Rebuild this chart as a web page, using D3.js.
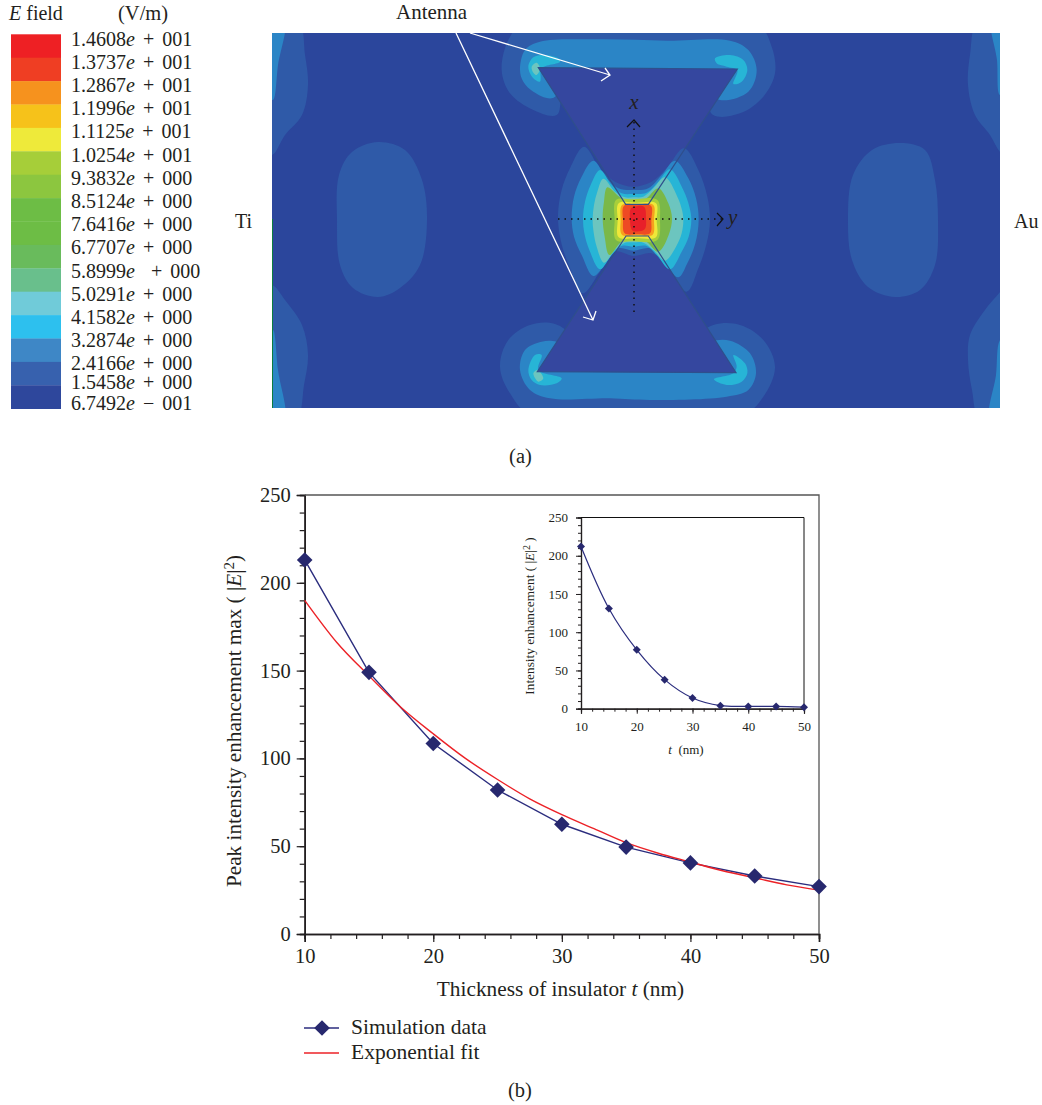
<!DOCTYPE html>
<html><head><meta charset="utf-8">
<script src="https://cdnjs.cloudflare.com/ajax/libs/d3/7.8.5/d3.min.js"></script>
<style>html,body{margin:0;padding:0;background:#fff}svg{display:block}text{font-family:"Liberation Serif",serif;fill:#231f20}.it{font-style:italic}</style>
</head><body><svg id="c" width="1042" height="1105"></svg>
<script>
// ---------- chart (b) data ----------
const thickness=[10,15,20,25,30,35,40,45,50];
const simulation=[213,149,108.5,82,62.5,49.5,40.5,33,27];
const fitThickness=[10,12.5,15,17.5,20,22.5,25,27.5,30,32.5,35,37.5,40,42.5,45,47.5,50];
const fitValues=[190,166,147,129,114,100,88,77,68,60,52,46,41,36,32,28,25];
const insetValues=[212,131,77,38,14,4,3,3,2];
const mainYTicks=[0,50,100,150,200,250];
const xTicks=[10,20,30,40,50];
// ---------- chart (a) colour key ----------
const keyLabels=[["1.4608","+ 001"],["1.3737","+ 001"],["1.2867","+ 001"],["1.1996","+ 001"],["1.1125","+ 001"],["1.0254","+ 001"],["9.3832","+ 000"],["8.5124","+ 000"],["7.6416","+ 000"],["6.7707","+ 000"],["5.8999"," + 000"],["5.0291","+ 000"],["4.1582","+ 000"],["3.2874","+ 000"],["2.4166","+ 000"],["1.5458","+ 000"],["6.7492","− 001"]];
const keyBands=["#ee2024","#ef3e23","#f6921e","#f6c21a","#eeea3a","#a6ce39","#8cc63f","#6dbd45","#6dbd45","#69bb5c","#69bf8c","#70cbd9","#2dc0ee","#3e87c6","#3761ae","#2e479c"];
// ---------- field contours: [colour, outline] ----------
const C={bg:"#2b469c",l2:"#2f5aa8",l3:"#2b85c6",l4:"#27b5d6",l5:"#6cc5bf",l6:"#7ab848",l7:"#a8cf3a",y:"#eee83a",o:"#f6a01e",r1:"#ee4a24",r2:"#e8202a"};
const sideShapes=[ // panel units
 [C.l2,[[265,20],[298,20],[305,55],[308,85],[302,115],[285,135],[272,155],[262,150],[262,60]]],
 [C.l3,[[265,20],[284,20],[278,65],[273,100],[266,90]]],
 [C.l2,[[272,285],[285,300],[302,325],[308,355],[304,385],[296,420],[265,420],[262,350],[262,290]]],
 [C.l3,[[265,420],[284,420],[278,370],[273,330],[266,350]]],
 [C.l2,[[337,220],[339,175],[352,152],[378,142],[405,150],[422,180],[427,220],[420,265],[400,288],[378,297],[353,288],[340,265]]],
 [C.l2,[[848,220],[853,175],[872,150],[900,143],[925,150],[935,180],[938,220],[935,265],[920,290],[895,297],[868,287],[852,260]]],
 [C.l2,[[1010,20],[978,20],[970,55],[968,85],[975,115],[990,135],[1000,152],[1010,160]]],
 [C.l3,[[1010,20],[992,20],[997,60],[1000,95],[1008,90]]],
 [C.l2,[[1010,280],[1000,292],[985,310],[970,335],[968,360],[972,390],[980,420],[1010,420]]],
 [C.l3,[[1008,420],[990,420],[996,375],[1000,340],[1008,335]]]
];
const cornerShapes=[ // zoomed panel units
 [C.l2,[[5,150],[25,60],[70,10],[400,10],[770,10],[815,80],[825,160],[790,230],[720,280],[640,285],[600,200],[200,200],[170,285],[100,270],[30,220]]],
 [C.l3,[[60,150],[75,90],[120,65],[300,58],[500,62],[690,62],[745,90],[770,150],[745,215],[660,240],[600,200],[200,200],[155,235],[100,215],[70,185]]],
 [C.l4,[[85,140],[100,112],[130,105],[175,115],[180,125],[125,145],[120,185],[100,175]]],
 [C.l4,[[645,115],[690,105],[730,120],[742,150],[725,185],[700,192],[712,150],[680,140],[650,130]]],
 [C.l5,[[95,140],[110,128],[120,145],[110,165],[100,158]]],
 [C.l2,[[0,1040],[25,960],[90,915],[165,912],[300,1000],[500,1000],[640,915],[720,915],[790,960],[825,1040],[790,1130],[720,1190],[100,1190],[30,1120]]],
 [C.l3,[[60,1050],[75,990],[125,965],[170,965],[300,1030],[500,1030],[630,965],[690,962],[750,1000],[768,1060],[745,1110],[680,1130],[450,1140],[330,1135],[150,1135],[90,1110]]],
 [C.l4,[[85,1050],[105,1005],[125,1005],[115,1050],[185,1075],[170,1090],[120,1095],[95,1080]]],
 [C.l4,[[700,1005],[735,1030],[742,1060],[725,1085],[680,1095],[642,1078],[700,1060],[710,1040]]],
 [C.l5,[[100,1060],[112,1050],[130,1075],[115,1085]]]
];
const antennaTop=[[115,143],[712,147],[445,553],[377,553]];
const antennaBottom=[[378,648],[445,648],[708,1058],[112,1055]];
const centreShapes=[ // zoomed centre units
 [C.l2,[[102,20],[150,85],[195,125],[250,140],[305,125],[350,85],[402,25],[445,90],[472,170],[480,240],[470,310],[445,385],[410,455],[350,375],[305,340],[250,348],[195,335],[150,395],[98,460],[60,385],[32,300],[24,225],[35,150],[60,85]]],
 [C.l3,[[130,62],[170,115],[205,145],[250,150],[295,145],[335,105],[375,62],[415,115],[438,175],[446,240],[436,310],[412,370],[385,412],[340,365],[300,325],[250,332],[205,325],[170,365],[130,408],[95,345],[72,290],[65,235],[72,170],[95,110]]],
 [C.l4,[[150,90],[185,135],[215,160],[250,162],[290,158],[325,125],[360,88],[400,150],[418,200],[424,240],[416,290],[395,335],[360,388],[320,345],[290,318],[250,320],[215,318],[185,345],[150,388],[118,330],[103,280],[99,235],[105,185],[122,135]]],
 [C.l5,[[160,116],[195,155],[225,172],[250,172],[280,170],[310,145],[345,112],[382,170],[396,210],[400,240],[395,280],[378,320],[345,362],[310,330],[280,308],[250,307],[225,308],[195,330],[162,368],[140,320],[130,270],[128,235],[132,195],[142,155]]],
 [C.l6,[[172,142],[215,175],[250,182],[285,178],[325,145],[355,190],[366,235],[356,285],[325,335],[285,302],[250,298],[215,305],[178,345],[164,290],[158,235],[162,185]]],
 [C.l7,[[198,180],[250,178],[322,180],[330,240],[322,300],[250,304],[198,300],[194,240]]],
 [C.y,[[206,190],[260,188],[318,190],[320,240],[318,292],[260,294],[206,292],[203,240]]],
 [C.o,[[216,195],[260,193],[310,195],[312,240],[308,284],[260,286],[216,284],[212,240]]],
 [C.r1,[[222,197],[262,195],[303,197],[304,240],[300,280],[262,283],[224,280],[219,240]]],
 [C.r2,[[244,204],[282,200],[288,235],[284,268],[248,272],[240,235]]]
];
const arrows=[
 {line:[[470,33],[610,75]],head:[[605,68],[610,75],[601,81]]},
 {line:[[456,33],[593,320]],head:[[583,317],[593,320],[596,311]]}
];
const dotted=[[[634,122],[634,315]],[[558,219],[722,219]]];
const axisHeads=[[[627,127],[634,120],[640,127]],[[717,213],[723,219],[717,226]]];

// ---------- scales ----------
const svg=d3.select("#c");
const px=d3.scaleLinear([272,1000],[272,1000]), py=d3.scaleLinear([33,408],[33,408]);
const cx=d3.scaleLinear([0,840],[500,780]), cy=d3.scaleLinear([0,1170],[20,410]);
const mx=d3.scaleLinear([0,510],[550,720]), my=d3.scaleLinear([0,480],[140,300]);
const blob=(X,Y)=>d3.line().x(d=>X(d[0])).y(d=>Y(d[1])).curve(d3.curveCatmullRomClosed.alpha(0.5));
const poly=(X,Y)=>d3.line().x(d=>X(d[0])).y(d=>Y(d[1]));

// ---------- colour key ----------
const keyY=d3.scaleBand(d3.range(keyBands.length),[34.3,408.7]);
svg.append("g").selectAll("rect").data(keyBands).join("rect")
 .attr("x",11).attr("width",50).attr("y",(d,i)=>keyY(i)).attr("height",keyY.bandwidth()+.3).attr("fill",d=>d);
const labelY=d3.scaleLinear([0,14],[39,363.8]);
const labelNudge=i=>i===15?-5:i===16?-7:0;
const kt=svg.append("g").selectAll("text").data(keyLabels).join("text")
 .attr("x",71).attr("y",(d,i)=>labelY(i)+labelNudge(i)).attr("dy","0.33em").attr("font-size",20).style("word-spacing","3px");
kt.append("tspan").text(d=>d[0]);
kt.append("tspan").attr("class","it").text("e");
kt.append("tspan").style("white-space","pre").text(d=>" "+d[1]);
const T=(x,y,s,size,anchor)=>svg.append("text").attr("x",x).attr("y",y).attr("font-size",size).attr("text-anchor",anchor||"start").text(s);
const ef=T(9,20,"",20); ef.append("tspan").attr("class","it").text("E"); ef.append("tspan").text(" field");
T(118,20,"(V/m)",20.5);
T(396,19,"Antenna",21);
T(235,228,"Ti",20);T(1014,228,"Au",20);
T(520.5,463,"(a)",20.5,"middle");T(520,1097,"(b)",20.5,"middle");

// ---------- field ----------
svg.append("clipPath").attr("id","fc").append("rect").attr("x",272).attr("y",33).attr("width",728).attr("height",375);
const F=svg.append("g").attr("clip-path","url(#fc)");
F.append("rect").attr("x",px(272)).attr("y",py(33)).attr("width",px(1000)-px(272)).attr("height",py(408)-py(33)).attr("fill",C.bg);
F.selectAll(".s").data(sideShapes).join("path").attr("class","s").attr("fill",d=>d[0]).attr("d",d=>blob(px,py)(d[1]));
F.selectAll(".k").data(cornerShapes).join("path").attr("class","k").attr("fill",d=>d[0]).attr("d",d=>blob(cx,cy)(d[1]));
F.selectAll(".a").data([antennaTop,antennaBottom]).join("path").attr("class","a").attr("fill","#35479f").attr("d",d=>poly(cx,cy)(d)+"Z");
F.selectAll(".m").data(centreShapes).join("path").attr("class","m").attr("fill",d=>d[0]).attr("d",d=>blob(mx,my)(d[1]));
F.selectAll(".b").data([antennaTop,antennaBottom]).join("path").attr("class","b").attr("fill","none").attr("stroke","#2f4f8c").attr("stroke-width",1.2).attr("d",d=>poly(cx,cy)(d)+"Z");
F.append("path").attr("fill","none").attr("stroke","#0b7d3e").attr("stroke-width",2).attr("d",poly(px,py)([[272,219],[272,408]]));
// dotted axes, arrows
svg.selectAll(".d").data(dotted).join("path").attr("class","d").attr("fill","none").attr("stroke","#111").attr("stroke-width",1.5).attr("stroke-dasharray","1.5 5").attr("d",d=>poly(px,py)(d));
svg.selectAll(".h").data(axisHeads).join("path").attr("class","h").attr("fill","none").attr("stroke","#111").attr("stroke-width",1.2).attr("d",d=>poly(px,py)(d));
svg.selectAll(".w").data(arrows).join("path").attr("class","w").attr("fill","none").attr("stroke","#fff").attr("stroke-width",1.3).attr("d",d=>poly(px,py)(d.line)+poly(px,py)(d.head));
T(634,109,"x",21,"middle").attr("class","it");
T(728,224,"y",21).attr("class","it");

// ---------- main plot ----------
const x=d3.scaleLinear([10,50],[304.7,819]), y=d3.scaleLinear([0,250],[934,495]);
const lineOf=(X,Y)=>d3.line().x(d=>X(d[0])).y(d=>Y(d[1]));
const ticksBy=(a,b,s)=>d3.range(a,b+.001,s);
function axes(g,X,Y,o){
 const bx=d3.axisBottom(X).tickValues(ticksBy(10,50,2)).tickSize(o.minor).tickFormat("");
 const ly=d3.axisLeft(Y).tickValues(ticksBy(0,250,10)).tickSize(o.minor).tickFormat("");
 const Bx=d3.axisBottom(X).tickValues(xTicks).tickSize(o.major).tickPadding(o.pad).tickFormat(d3.format("d"));
 const Ly=d3.axisLeft(Y).tickValues(mainYTicks).tickSize(o.major).tickPadding(o.pad).tickFormat(d3.format("d"));
 [[bx,"b"],[Bx,"b"],[ly,"l"],[Ly,"l"]].forEach(([a,s])=>{
  const n=g.append("g").attr("transform",s==="b"?`translate(0,${Y(0)})`:`translate(${X(10)},0)`).call(a);
  n.select(".domain").attr("stroke","#231f20").attr("stroke-width",o.sw);
  n.selectAll("line").attr("stroke","#231f20").attr("stroke-width",o.tw);
  n.selectAll("text").attr("font-family","Liberation Serif").attr("font-size",o.fs).attr("fill","#231f20");
 });
 g.append("path").attr("fill","none").attr("stroke",o.frame).attr("stroke-width",o.fw)
  .attr("d",lineOf(X,Y)([[10,250],[50,250],[50,0]]));
}
const G=svg.append("g");
axes(G,x,y,{minor:5,major:8,pad:6,sw:1.6,tw:1.2,fs:20.5,frame:"#555",fw:1.3});
const simPts=d3.zip(thickness,simulation), fitPts=d3.zip(fitThickness,fitValues);
G.append("path").attr("fill","none").attr("stroke","#2b2d7e").attr("stroke-width",1.4)
 .attr("d",lineOf(x,y)(simPts));
G.append("path").attr("fill","none").attr("stroke","#ec2227").attr("stroke-width",1.4)
 .attr("d",lineOf(x,y).curve(d3.curveMonotoneX)(fitPts));
const diamond=r=>`M0,${-r}L${r},0L0,${r}L${-r},0Z`;
G.selectAll(".pt").data(simPts).join("path").attr("class","pt").attr("fill","#27286e")
 .attr("transform",d=>`translate(${x(d[0])},${y(d[1])})`).attr("d",diamond(7.8));
const xl=T(560.5,996,"Thickness of insulator ",21.3,"middle");xl.append("tspan").attr("class","it").text("t");xl.append("tspan").text(" (nm)");
const yl=svg.append("text").attr("transform","translate(241,721) rotate(-90)").attr("text-anchor","middle").attr("font-size",21.2).style("white-space","pre");
yl.append("tspan").text("Peak intensity enhancement max ( |");yl.append("tspan").attr("class","it").text("E");yl.append("tspan").text("|");
yl.append("tspan").attr("dy",-7).attr("font-size",15).text("2");yl.append("tspan").attr("dy",7).text(")");

// legend
const legend=[["Simulation data","#2b2d7e",true],["Exponential fit","#ec2227",false]];
const legY=d3.scalePoint([0,1],[1028,1053]);
legend.forEach((d,i)=>{
 const Y0=legY(i);
 svg.append("path").attr("stroke",d[1]).attr("stroke-width",1.4).attr("d",poly(px,py)([[304,Y0],[339,Y0]]));
 if(d[2])svg.append("path").attr("fill","#27286e").attr("transform",`translate(322,${Y0})`).attr("d",diamond(7.8));
 T(351,Y0+6,d[0],21.5);
});

// ---------- inset ----------
const ix=d3.scaleLinear([10,50],[581,804]), iy=d3.scaleLinear([0,250],[708.7,517.5]);
const I=svg.append("g");
axes(I,ix,iy,{minor:3,major:5,pad:8,sw:1.2,tw:1,fs:13,frame:"#111",fw:1});
const inPts=d3.zip(thickness,insetValues);
I.append("path").attr("fill","none").attr("stroke","#2b2d7e").attr("stroke-width",1.2)
 .attr("d",lineOf(ix,iy).curve(d3.curveCatmullRom.alpha(.5))(inPts));
I.selectAll(".ipt").data(inPts).join("path").attr("class","ipt").attr("fill","#27286e")
 .attr("transform",d=>`translate(${ix(d[0])},${iy(d[1])})`).attr("d",diamond(4));
const il=T(686,754,"",13,"middle");il.append("tspan").attr("class","it").text("t");il.append("tspan").style("white-space","pre").text("  (nm)");
const iyl=svg.append("text").attr("transform","translate(534,616) rotate(-90)").attr("text-anchor","middle").attr("font-size",13.3).style("white-space","pre");
iyl.append("tspan").text("Intensity enhancement ( |");iyl.append("tspan").attr("class","it").text("E");iyl.append("tspan").text("|");
iyl.append("tspan").attr("dy",-4).attr("font-size",10).text("2");iyl.append("tspan").attr("dy",4).text(" )");
</script></body></html>
